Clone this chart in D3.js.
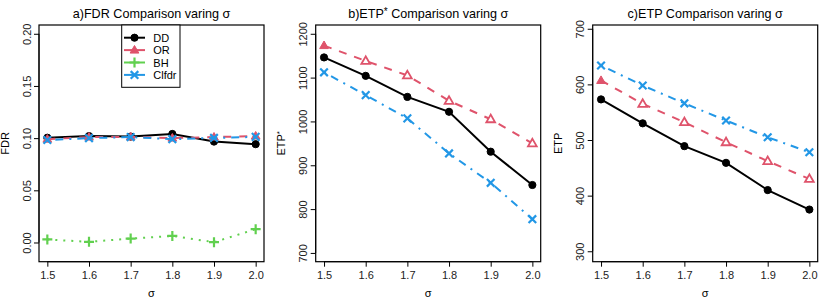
<!DOCTYPE html>
<html>
<head>
<meta charset="utf-8">
<script src="https://cdn.jsdelivr.net/npm/d3@7"></script>
<style>
  body { margin: 0; background: #fff; }
  svg text { font-family: "Liberation Sans", Arial, Helvetica, sans-serif; fill: #000; }
</style>
</head>
<body>
<div id="chart"></div>
<script>
var svgWidth = 830;
var svgHeight = 301;

// data
var sigma = [1.5, 1.6, 1.7, 1.8, 1.9, 2.0];
var xTicks = [1.5, 1.6, 1.7, 1.8, 1.9, 2.0];
var methods = ["DD", "OR", "BH", "Clfdr"];

var fdrDD    = [0.1004, 0.1020, 0.1015, 0.1040, 0.0967, 0.0942];
var fdrOR    = [0.0990, 0.1010, 0.1012, 0.1000, 0.1010, 0.1020];
var fdrBH    = [0.0029, 0.0006, 0.0038, 0.0063, 0.0003, 0.0128];
var fdrClfdr = [0.0982, 0.1000, 0.1010, 0.0990, 0.1002, 0.1012];

var etpStarDD    = [1146, 1104, 1056, 1022, 931, 855];
var etpStarOR    = [1173, 1138, 1105, 1047, 1005, 950];
var etpStarClfdr = [1112, 1060, 1007, 927, 860, 777];

var etpDD    = [573, 530, 489, 459, 410, 375];
var etpOR    = [607, 565, 532, 496, 462, 430];
var etpClfdr = [634, 598, 566, 535, 505, 478];

var fdrTicks = [0, 0.05, 0.10, 0.15, 0.20];
var fdrTickLabels = ["0.00", "0.05", "0.10", "0.15", "0.20"];
var etpStarTicks = [700, 800, 900, 1000, 1100, 1200];
var etpTicks = [300, 400, 500, 600, 700];

// look of each method (R palette 2)
var styles = {
  DD:    { color: "#000000", dash: null,       pch: "circle" },
  OR:    { color: "#DF536B", dash: "8,8",      pch: "triangle" },
  BH:    { color: "#61D04F", dash: "2,6",      pch: "plus" },
  Clfdr: { color: "#2297E6", dash: "2,6,8,6",  pch: "cross" }
};

var panels = [
  { left: 39,    title: "a)FDR Comparison varing σ", ylab: "FDR", star: false,
    ylim: [-0.01, 0.2], ticks: fdrTicks, labels: fdrTickLabels,
    series: [["DD", fdrDD], ["OR", fdrOR], ["BH", fdrBH], ["Clfdr", fdrClfdr]], legend: true, openOR: false },
  { left: 315.7, title: "b)ETP", ylab: "ETP", star: true,
    ylim: [700, 1200], ticks: etpStarTicks, labels: null,
    series: [["DD", etpStarDD], ["OR", etpStarOR], ["Clfdr", etpStarClfdr]], legend: false, openOR: true },
  { left: 592.7, title: "c)ETP Comparison varing σ", ylab: "ETP", star: false,
    ylim: [297, 691], ticks: etpTicks, labels: null,
    series: [["DD", etpDD], ["OR", etpOR], ["Clfdr", etpClfdr]], legend: false, openOR: true }
];

var plotW = 225;
var plotTop = 25;
var plotBottom = 261.7;

var svg = d3.select("#chart")
  .append("svg")
  .attr("width", svgWidth)
  .attr("height", svgHeight);

// R style 4% padding
function pad(lim) {
  var d = (lim[1] - lim[0]) * 0.04;
  return [lim[0] - d, lim[1] + d];
}

function drawMarker(g, type, x, y, color, open) {
  if (type === "circle") {
    g.append("circle").attr("cx", x).attr("cy", y).attr("r", 3.6)
      .attr("fill", color).attr("stroke", color).attr("stroke-width", 1);
  } else if (type === "triangle") {
    var s = 4.6;
    var pts = [[x, y - s], [x - s * 0.95, y + s * 0.65], [x + s * 0.95, y + s * 0.65]];
    g.append("polygon").attr("points", pts.map(p => p.join(",")).join(" "))
      .attr("fill", open ? "#fff" : color).attr("stroke", color).attr("stroke-width", open ? 1.8 : 1);
  } else if (type === "plus") {
    var a = 5;
    g.append("path").attr("d", `M${x - a},${y}H${x + a}M${x},${y - a}V${y + a}`)
      .attr("stroke", color).attr("stroke-width", 2.2);
  } else {
    var c = 3.8;
    g.append("path").attr("d", `M${x - c},${y - c}L${x + c},${y + c}M${x - c},${y + c}L${x + c},${y - c}`)
      .attr("stroke", color).attr("stroke-width", 2.2);
  }
}

panels.forEach(function(p) {
  var g = svg.append("g").attr("transform", `translate(${p.left}, 0)`);

  var x = d3.scaleLinear().domain(pad([1.5, 2.0])).range([0, plotW]);
  var y = d3.scaleLinear().domain(pad(p.ylim)).range([plotBottom, plotTop]);

  // x axis
  var xAxis = g.append("g")
    .attr("transform", `translate(0, ${plotBottom})`)
    .call(d3.axisBottom(x).tickValues(xTicks).tickFormat(d3.format(".1f"))
      .tickSize(5).tickSizeOuter(0).tickPadding(4.5));
  xAxis.select(".domain").attr("d", `M${x(1.5)},0H${x(2.0)}`);
  xAxis.selectAll("text").attr("font-size", "11px").style("fill", "#222");

  // y axis with rotated labels
  var yAxis = g.append("g")
    .call(d3.axisLeft(y).tickValues(p.ticks)
      .tickFormat((d, i) => p.labels ? p.labels[i] : d)
      .tickSize(5).tickSizeOuter(0));
  yAxis.select(".domain").attr("d", `M0,${y(p.ticks[0])}V${y(p.ticks[p.ticks.length - 1])}`);
  yAxis.selectAll("text")
    .attr("x", 0).attr("y", -8.5).attr("dy", null)
    .attr("transform", "rotate(-90)")
    .attr("text-anchor", "middle")
    .attr("font-size", "11px").style("fill", "#222");
  g.selectAll(".domain, .tick line").attr("stroke", "#000");

  // box
  g.append("rect")
    .attr("x", 0).attr("y", plotTop)
    .attr("width", plotW).attr("height", plotBottom - plotTop)
    .attr("fill", "none").attr("stroke", "#000").attr("stroke-width", 1.2);

  // title
  var t = g.append("text")
    .attr("x", plotW / 2).attr("y", 17.5)
    .attr("text-anchor", "middle")
    .attr("font-size", "12.6px");
  if (p.star) {
    t.append("tspan").text(p.title);
    t.append("tspan").attr("font-size", "10px").attr("dy", -3).text("*");
    t.append("tspan").attr("dy", 3).text(" Comparison varing σ");
  } else {
    t.text(p.title);
  }

  // axis labels
  g.append("text")
    .attr("x", plotW / 2).attr("y", 297)
    .attr("text-anchor", "middle")
    .attr("font-size", "11px")
    .text("σ");

  var yl = g.append("text")
    .attr("transform", `translate(-30.5, ${(plotTop + plotBottom) / 2}) rotate(-90)`)
    .attr("text-anchor", "middle")
    .attr("font-size", "11px");
  yl.append("tspan").text(p.ylab);
  if (p.star) yl.append("tspan").attr("font-size", "8px").attr("dy", -3).text("*");

  // series
  p.series.forEach(function(s) {
    var st = styles[s[0]];
    var vals = s[1];
    var line = d3.line().x((d, i) => x(sigma[i])).y(d => y(d));
    g.append("path")
      .datum(vals)
      .attr("d", line)
      .attr("fill", "none")
      .attr("stroke", st.color)
      .attr("stroke-width", 2)
      .attr("stroke-dasharray", st.dash);
    vals.forEach(function(v, i) {
      var open = s[0] === "OR" && p.openOR && i > 0;
      drawMarker(g, st.pch, x(sigma[i]), y(v), st.color, open);
    });
  });

  // legend
  if (p.legend) {
    var lg = g.append("g").attr("transform", `translate(${121.7 - p.left}, ${plotTop})`);
    lg.append("rect")
      .attr("width", 58.3).attr("height", 62.3)
      .attr("fill", "#fff").attr("stroke", "#000").attr("stroke-width", 1);
    methods.forEach(function(m, i) {
      var st = styles[m];
      var yy = 12.7 + i * 12.4;
      lg.append("line")
        .attr("x1", 2.3).attr("x2", 23.3).attr("y1", yy).attr("y2", yy)
        .attr("stroke", st.color).attr("stroke-width", 2);
      drawMarker(lg, st.pch, 12.8, yy, st.color, false);
      lg.append("text")
        .attr("x", 31.6).attr("y", yy + 4)
        .attr("font-size", "11px")
        .text(m);
    });
  }
});
</script>
</body>
</html>
